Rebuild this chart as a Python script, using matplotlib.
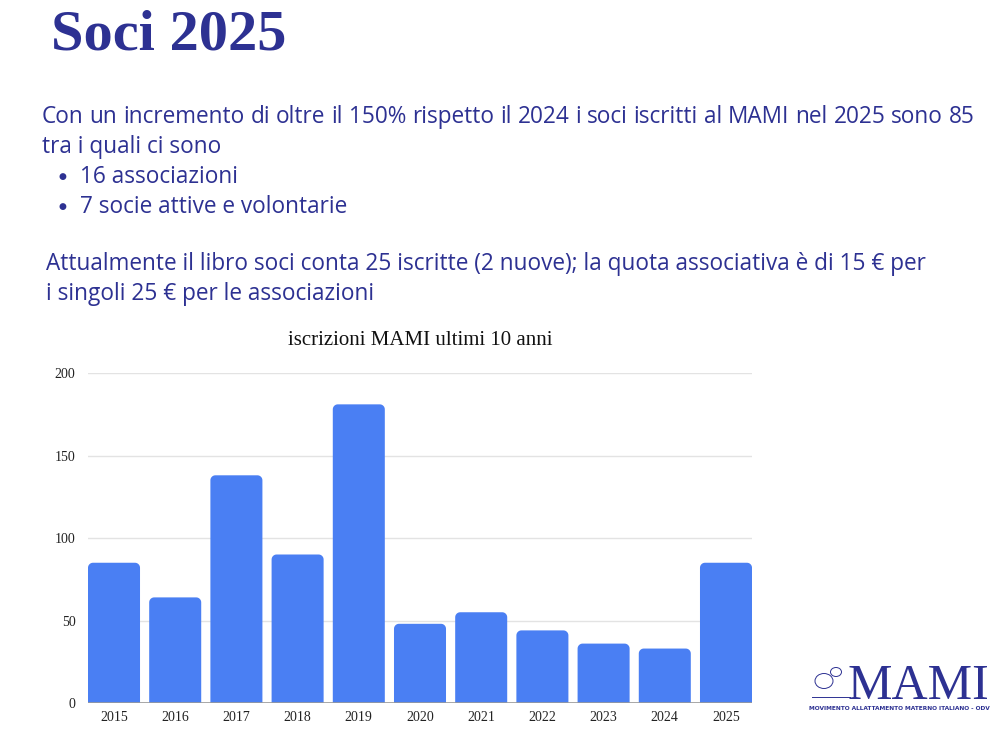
import numpy as np
import matplotlib.pyplot as plt
from matplotlib.patches import Polygon, Ellipse

# ----------------------------
# Data
# ----------------------------
years = ["2015", "2016", "2017", "2018", "2019", "2020",
         "2021", "2022", "2023", "2024", "2025"]
iscrizioni = [85, 64, 138, 90, 181, 48, 55, 44, 36, 33, 85]
y_ticks = [0, 50, 100, 150, 200]

title_text = "Soci 2025"
chart_title = "iscrizioni MAMI ultimi 10 anni"
intro_line1 = ("Con un incremento di oltre il 150% rispetto il 2024 i soci "
               "iscritti al MAMI nel 2025 sono 85")
intro_line2 = "tra i quali ci sono"
bullets = ["16 associazioni", "7 socie attive e volontarie"]
quota_lines = ["Attualmente il libro soci conta 25 iscritte (2 nuove); la quota associativa è di 15 € per",
               "i singoli 25 € per le associazioni"]

NAVY = "#2d3192"
BAR = "#4a7ff3"
W, H = 1006, 742
BODY = 16.3

fig = plt.figure(figsize=(W / 100, H / 100), dpi=100)
fig.patch.set_facecolor("white")


def fy(py):
    return 1 - py / H


def fx(px):
    return px / W


# ----------------------------
# Header + text block
# ----------------------------
fig.text(fx(51), fy(49), title_text, fontsize=42, fontweight="bold",
         family="Liberation Serif", color=NAVY, va="baseline", ha="left")

fig.canvas.draw()
renderer = fig.canvas.get_renderer()

# first line is justified between the two margins
words = intro_line1.split(" ")
x0, x1 = 42, 975
tmp = [fig.text(0, 0, w, fontsize=BODY, family="Open Sans") for w in words]
widths = [t.get_window_extent(renderer).width for t in tmp]
for t in tmp:
    t.remove()
gap = (x1 - x0 - sum(widths)) / (len(words) - 1)
xpos = x0
for w, wd in zip(words, widths):
    fig.text(fx(xpos), fy(123), w, fontsize=BODY, family="Open Sans",
             color=NAVY, va="baseline", ha="left")
    xpos += wd + gap

fig.text(fx(42), fy(153), intro_line2, fontsize=BODY, family="Open Sans",
         color=NAVY, va="baseline", ha="left")
for i, b in enumerate(bullets):
    base = 183 + 30 * i
    fig.text(fx(62), fy(base - 6), "●", fontsize=6.5, family="DejaVu Sans",
             color=NAVY, va="center", ha="center")
    fig.text(fx(80), fy(base), b, fontsize=BODY, family="Open Sans",
             color=NAVY, va="baseline", ha="left")
for i, line in enumerate(quota_lines):
    fig.text(fx(46), fy(270 + 30 * i), line, fontsize=BODY, family="Open Sans",
             color=NAVY, va="baseline", ha="left")

# ----------------------------
# Bar chart
# ----------------------------
ax_h = (703 - 373) / H
ax_w = fx(752) - fx(88)
ax = fig.add_axes([fx(88), fy(703), ax_w, ax_h])

bar_w = 0.85
ax.set_xlim(-0.425, len(years) - 1 + 0.425)
ax.set_ylim(0, 200)

# corner radius ~5 px converted to data units
x_span = len(years) - 1 + 0.85
rx = 5 * x_span / (752 - 88)
ry = 5 * 200 / (703 - 373)
theta = np.linspace(0, np.pi / 2, 12)

for i, v in enumerate(iscrizioni):
    left, right = i - bar_w / 2, i + bar_w / 2
    top = v
    right_arc = np.column_stack([right - rx + rx * np.cos(theta),
                                 top - ry + ry * np.sin(theta)])
    left_arc = np.column_stack([left + rx - rx * np.cos(theta[::-1]),
                                top - ry + ry * np.sin(theta[::-1])])
    pts = np.vstack([[left, 0], [right, 0], right_arc, left_arc])
    ax.add_patch(Polygon(pts, closed=True, facecolor=BAR, edgecolor="none",
                         zorder=3))

ax.set_yticks(y_ticks)
ax.set_xticks(range(len(years)))
ax.set_xticklabels(years)
ax.grid(axis="y", color="#e3e3e3", linewidth=1, zorder=0)
ax.axhline(0, color="#9a9a9a", linewidth=1.2, zorder=4)
for s in ax.spines.values():
    s.set_visible(False)
ax.tick_params(length=0, labelsize=10, labelcolor="#222222")
ax.tick_params(axis="x", pad=6)
ax.tick_params(axis="y", pad=9)
for lab in ax.get_xticklabels() + ax.get_yticklabels():
    lab.set_family("Liberation Serif")
ax.set_title(chart_title, family="Liberation Serif", fontsize=15,
             color="#111111", pad=20)

# ----------------------------
# Logo
# ----------------------------
fig.text(fx(918), fy(699), "MAMI", family="Liberation Serif", fontsize=36,
         color=NAVY, va="baseline", ha="center")
fig.text(fx(899), fy(708), "MOVIMENTO ALLATTAMENTO MATERNO ITALIANO - ODV",
         family="DejaVu Sans", fontsize=4.2, fontweight="bold",
         color=NAVY, va="center", ha="center")
# rough sketch of the logo drawing
fig.patches.append(Ellipse((fx(824), fy(681)), 18 / W, 15 / H,
                           transform=fig.transFigure, fill=False,
                           edgecolor=NAVY, linewidth=0.7))
fig.patches.append(Ellipse((fx(836), fy(672)), 11 / W, 9 / H,
                           transform=fig.transFigure, fill=False,
                           edgecolor=NAVY, linewidth=0.7))
fig.lines.append(plt.Line2D([fx(812), fx(850)], [fy(697), fy(697)],
                            transform=fig.transFigure, color=NAVY,
                            linewidth=0.7))

fig.savefig("out.png", dpi=100)
